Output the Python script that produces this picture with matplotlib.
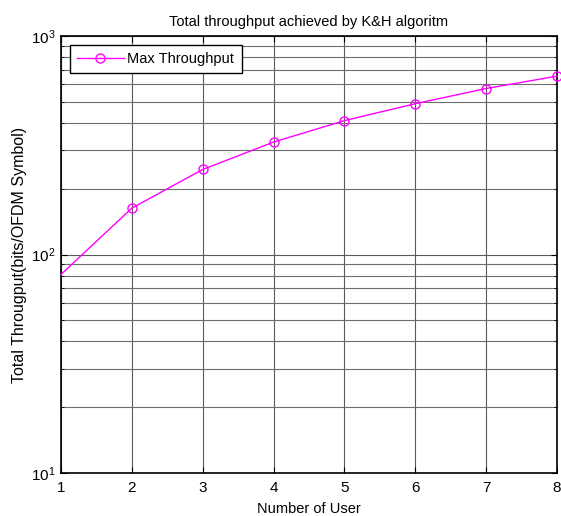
import matplotlib
matplotlib.use("Agg")
import matplotlib.pyplot as plt
from matplotlib.ticker import LogLocator, NullFormatter

plt.rcParams['font.family'] = ['Liberation Sans', 'DejaVu Sans']
plt.rcParams['mathtext.fontset'] = 'custom'
plt.rcParams['mathtext.rm'] = 'Liberation Sans'
plt.rcParams['mathtext.it'] = 'Liberation Sans:italic'

users = [1, 2, 3, 4, 5, 6, 7, 8]
throughput = [81, 163, 245, 327, 410, 490, 575, 655]
x_ticks = [1, 2, 3, 4, 5, 6, 7, 8]

fig = plt.figure(figsize=(5.61, 5.16), dpi=100)
ax = fig.add_axes([61/561, 43/516, 496/561, 437/516])

ax.semilogy(users, throughput, color='#ff00ff', marker='o', markersize=6.5,
            markerfacecolor='none', markeredgecolor='#ff00ff', linewidth=1.0,
            markevery=list(range(1, len(users))),
            label='Max Throughput', clip_on=False, zorder=3)

ax.set_xlim(1, 8)
ax.set_ylim(10, 1000)
ax.set_xticks(x_ticks)
ax.yaxis.set_major_locator(LogLocator(base=10, numticks=10))
ax.yaxis.set_minor_locator(LogLocator(base=10, subs=range(2, 10), numticks=20))
ax.yaxis.set_minor_formatter(NullFormatter())

ax.grid(True, which='major', color='#5a5a5a', linewidth=0.8, linestyle='-')
ax.grid(True, which='minor', axis='y', color='#6e6e6e', linewidth=0.8, linestyle='-')
ax.set_axisbelow(True)

ax.tick_params(which='both', direction='in', top=True, right=True, labelsize=11)
ax.tick_params(axis='x', pad=6)
ax.tick_params(axis='y', pad=4)
ax.tick_params(which='major', length=4)
ax.tick_params(which='minor', length=2)
for s in ax.spines.values():
    s.set_linewidth(1.2)

ax.set_title('Total throughput achieved by K&H algoritm', fontsize=10.5, pad=7)
ax.set_xlabel('Number of User', fontsize=10.5, labelpad=5)
ax.set_ylabel('Total Througput(bits/OFDM Symbol)', fontsize=11.5, labelpad=3)

leg = ax.legend(loc='upper left', fontsize=10.5, frameon=True, fancybox=False,
                edgecolor='black', framealpha=1, borderaxespad=0.6,
                handlelength=3.2, handletextpad=0.25, borderpad=0.5)
leg.get_frame().set_linewidth(1.0)

fig.savefig('out.png', dpi=100)
